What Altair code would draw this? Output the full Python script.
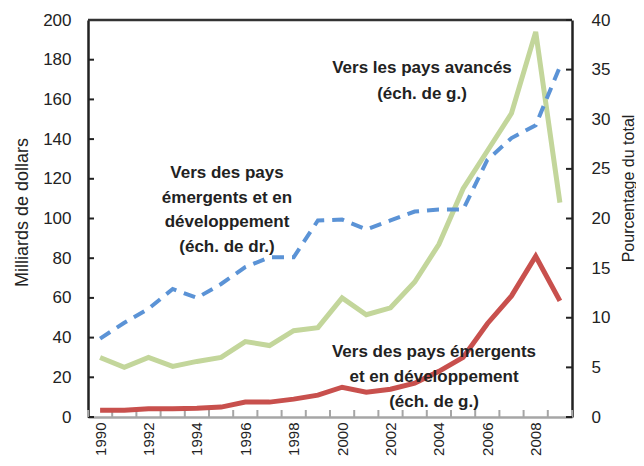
import altair as alt
import pandas as pd

years = list(range(1990, 2010))
advanced = [30, 25, 30, 25.5, 28, 30, 38, 36, 43.5, 45, 60, 51.5, 55, 68, 87, 115, 134, 153, 194, 108]
emerging = [3.4, 3.4, 4.2, 4.2, 4.4, 5, 7.5, 7.5, 9, 11, 15, 12.5, 14, 17, 23, 30, 47, 61, 81, 58.5]
share = [7.9, 9.5, 10.9, 12.9, 12.0, 13.4, 15.1, 16.1, 16.1, 19.8, 19.9, 18.9, 19.8, 20.7, 20.9, 20.9, 25.9, 28.1, 29.4, 35.3]
year_labels = list(range(1990, 2010, 2))
left_ticks = list(range(0, 201, 20))
right_ticks = list(range(0, 41, 5))
band_edges = [y - 0.5 for y in range(1990, 2011)]

FONT = "Liberation Sans"
W, H = 484, 397

df = pd.DataFrame({"year": years, "adv": advanced, "emg": emerging, "share": share})

xscale = alt.Scale(domain=[1989.5, 2009.5], nice=False, zero=False)
lscale = alt.Scale(domain=[0, 200], nice=False)
rscale = alt.Scale(domain=[0, 40], nice=False)

xaxis = alt.Axis(values=year_labels, format="d", labelAngle=270, ticks=False, grid=False,
                 domainColor="#a6a6a6", domainWidth=2.5, labelFontSize=15, labelColor="#222",
                 labelPadding=5, title=None, labelOverlap=False, labelFont=FONT)
laxis = alt.Axis(values=left_ticks, ticks=False, grid=False, domainColor="#222", domainWidth=2.5,
                 labelFontSize=17, labelColor="#222", labelPadding=17, labelFont=FONT,
                 labelOverlap=False,
                 title="Milliards de dollars", titleFont=FONT, titleFontSize=18,
                 titleFontWeight="normal", titleColor="#222",
                 titleAngle=270, titleX=-66, titleY=192, titleAlign="center", titleBaseline="middle")
raxis = alt.Axis(values=right_ticks, ticks=False, grid=False, domainColor="#222", domainWidth=2.5,
                 labelFontSize=17, labelColor="#222", labelPadding=19, labelFont=FONT, orient="right",
                 labelOverlap=False,
                 title="Pourcentage du total", titleFont=FONT, titleFontSize=16,
                 titleFontWeight="normal", titleColor="#222",
                 titleAngle=270, titleX=56, titleY=168, titleAlign="center", titleBaseline="middle")

base = alt.Chart(df)


def X(field):
    return alt.X(field, scale=xscale, axis=xaxis)


def YL(field):
    return alt.Y(field, scale=lscale, axis=laxis)


def YR(field):
    return alt.Y(field, scale=rscale, axis=raxis)


green = base.mark_line(color="#c3d69b", strokeWidth=5).encode(x=X("year:Q"), y=YL("adv:Q"))
red = base.mark_line(color="#c8504d", strokeWidth=5).encode(x=X("year:Q"), y=YL("emg:Q"))

lt = alt.Chart(pd.DataFrame({"v": left_ticks})).mark_rule(color="#222", strokeWidth=2).encode(
    y=YL("v:Q"), x=alt.value(0), x2=alt.value(6))
bt = alt.Chart(pd.DataFrame({"b": band_edges})).mark_rule(color="#a6a6a6", strokeWidth=2).encode(
    x=X("b:Q"), y=alt.value(H), y2=alt.value(H - 7))
top = alt.Chart(pd.DataFrame({"v": [0]})).mark_rule(color="#333", strokeWidth=2.5).encode(
    x=alt.value(0), x2=alt.value(W), y=alt.value(0))


def label(lines, cx, cy, step=25):
    marks = []
    for i, t in enumerate(lines):
        marks.append(alt.Chart(pd.DataFrame({"t": [t]})).mark_text(
            font=FONT, fontSize=17, fontWeight="bold", color="#222", align="center",
            baseline="middle").encode(text="t:N", x=alt.value(cx), y=alt.value(cy + i * step)))
    return marks


ann = (label(["Vers les pays avancés", "(éch. de g.)"], 334, 48, 26)
       + label(["Vers des pays", "émergents et en", "développement", "(éch. de dr.)"], 139, 153, 24.7)
       + label(["Vers des pays émergents", "et en développement", "(éch. de g.)"], 346, 332, 25))

blue = base.mark_line(color="#5b93d6", strokeWidth=4, strokeDash=[12, 8]).encode(
    x=X("year:Q"), y=YR("share:Q"))
rt = alt.Chart(pd.DataFrame({"v": right_ticks})).mark_rule(color="#222", strokeWidth=2).encode(
    y=YR("v:Q"), x=alt.value(W - 6), x2=alt.value(W))

left = alt.layer(green, lt, bt, top, red, *ann)
right = alt.layer(blue, rt)

chart = alt.layer(left, right).resolve_scale(y="independent").properties(
    width=W, height=H,
    autosize=alt.AutoSizeParams(type="none"),
    padding={"left": 80, "top": 12, "right": 64, "bottom": 41},
).configure_view(stroke=None)

chart.save("out.html", embed_options={"renderer": "svg", "actions": False})
